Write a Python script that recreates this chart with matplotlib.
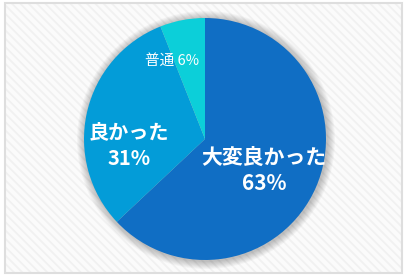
import matplotlib
matplotlib.use("Agg")
import matplotlib.pyplot as plt
from matplotlib.patches import Rectangle, Circle

labels = ["大変良かった", "良かった", "普通"]
values = [63, 31, 6]
colors = ["#106EC4", "#039CD8", "#0CCFD9"]

plt.rcParams['font.family'] = ['Noto Sans CJK JP', 'DejaVu Sans']

W, H = 407, 276
fig = plt.figure(figsize=(W / 100, H / 100), dpi=100)
ax = fig.add_axes([0, 0, 1, 1])
ax.set_xlim(0, W)
ax.set_ylim(0, H)
ax.set_aspect('equal')
ax.axis('off')

# background frame with subtle diagonal stripes
ax.add_patch(Rectangle((0, 0), W, H, facecolor='white', edgecolor='none', zorder=0))
plt.rcParams['hatch.linewidth'] = 1.3
ax.add_patch(Rectangle((5, 3), 397, 270, facecolor='#fbfbfb', edgecolor='#f1f1f1',
                       hatch='\\\\\\\\', linewidth=0, zorder=1))
ax.add_patch(Rectangle((5, 3), 397, 270, facecolor='none', edgecolor='#dedede',
                       linewidth=1.5, zorder=2))

cx, cy, r = 205, 137, 121

# soft shadow
for i in range(8):
    ax.add_patch(Circle((cx + 1, cy - 1), r + 8 - i, facecolor='#000000',
                        alpha=0.03, edgecolor='none', zorder=3))

wedges, _ = ax.pie(values, colors=colors, startangle=90, counterclock=False,
                   center=(cx, cy), radius=r, frame=True,
                   wedgeprops=dict(linewidth=0))
for w in wedges:
    w.set_zorder(4)
ax.set_xlim(0, W)
ax.set_ylim(0, H)
ax.axis('off')

ax.text(264, H - 170, f"{labels[0]}\n{values[0]}%", color='white', fontsize=15,
        fontweight='bold', ha='center', va='center', linespacing=1.3, zorder=5)
ax.text(129, H - 145, f"{labels[1]}\n{values[1]}%", color='white', fontsize=14.5,
        fontweight='bold', ha='center', va='center', linespacing=1.3, zorder=5)
ax.text(172, H - 61, f"{labels[2]} {values[2]}%", color='white', fontsize=10.5,
        fontweight='normal', ha='center', va='center', zorder=5)

fig.savefig("out.png", dpi=100)
